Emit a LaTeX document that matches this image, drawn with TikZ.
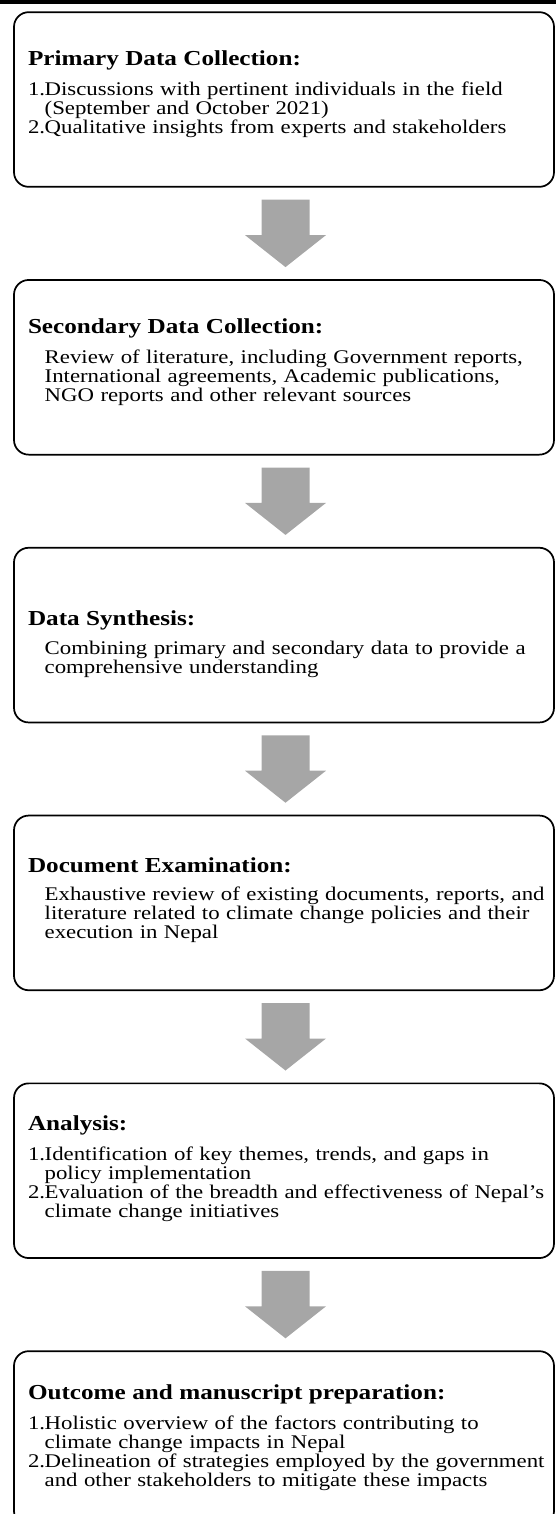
\documentclass[tikz,border=0pt]{standalone}
\usepackage{fontspec}
\setmainfont{Liberation Serif}[FakeStretch=1.18,WordSpace=0.6]
\usetikzlibrary{calc}
\definecolor{arrowgray}{RGB}{166,166,166}
\setlength{\lineskiplimit}{-20pt}
\newcommand{\hd}[1]{{\fontsize{16}{13}\selectfont\bfseries #1}\\[7.9pt]}
\newcommand{\li}[1]{\mbox{#1}}
\newcommand{\itm}[1]{\makebox[12.5pt][l]{#1}}
\newcommand{\cnt}{\hspace*{12.5pt}}

\begin{document}
\begin{tikzpicture}[x=0.75pt,y=0.75pt]
  \def\cx{284};
  \def\pitch{267.8};
  \tikzset{stage/.style={draw,line width=1.3pt,rounded corners=11pt,
      minimum width=405pt,minimum height=131pt,text width=384pt,
      inner xsep=10.5pt,inner ysep=0pt,align=left,
      font=\fontsize{14.5}{13.1}\selectfont},
    titlepos/.style 2 args={text height=#1,text depth=#2}}
  \def\flowarrow#1#2{%
    \fill[arrowgray] ($(#1.south)+(-22.5,-12)$)--($(#1.south)+(25.5,-12)$)
      --($(#2.north)+(25.5,44)$)--($(#2.north)+(42,44)$)--($(#2.north)+(1.5,12)$)
      --($(#2.north)+(-39,44)$)--($(#2.north)+(-22.5,44)$)--cycle;}
  \useasboundingbox (0,0) rectangle (556,-1514);
  \fill[black] (0,0) rectangle (556,-3.5);

  \node[stage,titlepos={40pt}{91pt}] (b1) at (\cx,-99.5) {\hd{Primary Data Collection:}
    \li{\itm{1.}Discussions with pertinent individuals in the field}\\
    \li{\cnt(September and October 2021)}\\
    \li{\itm{2.}Qualitative insights from experts and stakeholders}};
  \node[stage,titlepos={40pt}{91pt}] (b2) at (\cx,-99.5-\pitch) {\hd{Secondary Data Collection:}
    \li{\cnt Review of literature, including Government reports,}\\
    \li{\cnt International agreements, Academic publications,}\\
    \li{\cnt NGO reports and other relevant sources}};
  \node[stage,titlepos={58pt}{73pt}] (b3) at (\cx,-99.5-2*\pitch) {\hd{Data Synthesis:}
    \li{\cnt Combining primary and secondary data to provide a}\\
    \li{\cnt comprehensive understanding}};
  \node[stage,titlepos={43pt}{88pt}] (b4) at (\cx,-99.5-3*\pitch) {\hd{Document Examination:}
    \li{\cnt Exhaustive review of existing documents, reports, and}\\
    \li{\cnt literature related to climate change policies and their}\\
    \li{\cnt execution in Nepal}};
  \node[stage,titlepos={35.5pt}{95.5pt}] (b5) at (\cx,-99.5-4*\pitch) {\hd{Analysis:}
    \li{\itm{1.}Identification of key themes, trends, and gaps in}\\
    \li{\cnt policy implementation}\\
    \li{\itm{2.}Evaluation of the breadth and effectiveness of Nepal's}\\
    \li{\cnt climate change initiatives}};
  \node[stage,titlepos={36.5pt}{94.5pt}] (b6) at (\cx,-99.5-5*\pitch) {\hd{Outcome and manuscript preparation:}
    \li{\itm{1.}Holistic overview of the factors contributing to}\\
    \li{\cnt climate change impacts in Nepal}\\
    \li{\itm{2.}Delineation of strategies employed by the government}\\
    \li{\cnt and other stakeholders to mitigate these impacts}};

  \flowarrow{b1}{b2}
  \flowarrow{b2}{b3}
  \flowarrow{b3}{b4}
  \flowarrow{b4}{b5}
  \flowarrow{b5}{b6}
\end{tikzpicture}
\end{document}
